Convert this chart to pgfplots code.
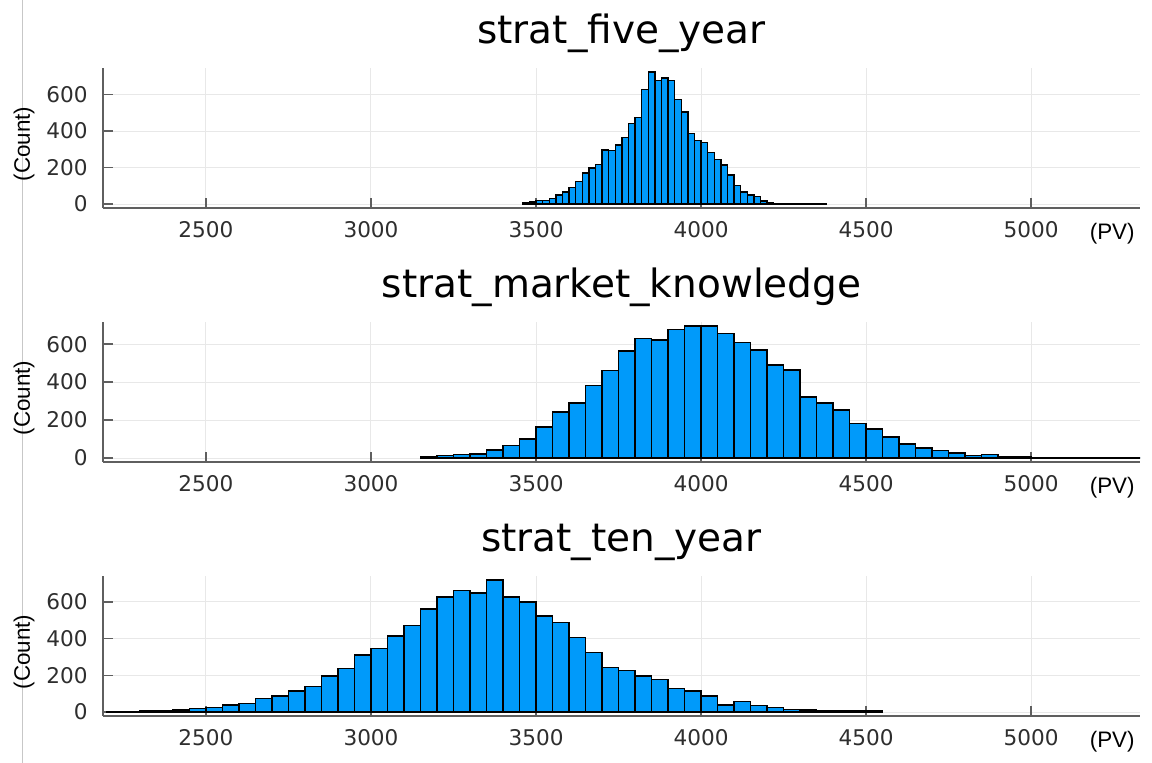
\documentclass[border=0pt]{standalone}
\usepackage{pgfplots}
\pgfplotsset{compat=1.18}
\usepackage{fontspec}
\setmainfont{DejaVu Sans}
\newfontfamily\labelfont{Liberation Sans}

\definecolor{barblue}{RGB}{0,154,250}
\definecolor{spine}{RGB}{95,95,95}

\pgfplotsset{
  panel/.style={
    scale only axis, width=518.5pt, height=70pt,
    anchor=south west,
    xmin=2188, xmax=5330,
    axis lines*=left,
    axis line style={-, spine, line width=1pt},
    tick align=inside,
    major tick length=5pt,
    tick style={spine, line width=0.8pt},
    xtick={2500,3000,3500,4000,4500,5000},
    ytick={0,200,400,600},
    grid=major,
    major grid style={black!9, line width=0.5pt},
    /pgf/number format/1000 sep={},
    /pgf/number format/assume math mode=true,
    tick label style={font=\fontsize{10.8}{12}\selectfont, text=black!82},
    xticklabel style={anchor=base, yshift=-14.6pt},
    yticklabel style={anchor=east, inner sep=0pt, xshift=-7.5pt},
    every axis title shift=0pt,
    title style={font=\fontsize{19.5}{22}\selectfont, anchor=base, at={(0.5,1)}, yshift=12.3pt},
    xlabel={(PV)},
    xlabel style={at={(rel axis cs:1,0)}, anchor=base east, inner sep=0pt,
      xshift=-2.5pt, yshift=-16pt, font=\labelfont\fontsize{11.2}{13}\selectfont},
  },
  hist/.style={ybar interval, fill=barblue, draw=black, line width=0.7pt},
}

\begin{document}
\begin{tikzpicture}
\path[use as bounding box] (0,0) rectangle (576pt,381.5pt);
\draw[black!22, line width=0.5pt] (11pt,0) -- (11pt,381.5pt);

% strat_five_year: bins of 20 from 3460
\begin{axis}[panel, at={(51.5pt,277.5pt)}, ymin=-21.7, ymax=745.7, title={strat\_five\_year}]
\addplot[hist] coordinates {
(3460,5) (3480,12) (3500,18) (3520,18) (3540,31) (3560,49) (3580,67) (3600,91)
(3620,122) (3640,169) (3660,198) (3680,218) (3700,296) (3720,293) (3740,324) (3760,364)
(3780,440) (3800,473) (3820,627) (3840,724) (3860,678) (3880,691) (3900,676) (3920,573)
(3940,504) (3960,387) (3980,349) (4000,336) (4020,282) (4040,245) (4060,213) (4080,158)
(4100,100) (4120,67) (4140,49) (4160,40) (4180,16) (4200,9) (4220,4) (4240,3)
(4260,2) (4280,2) (4300,3) (4320,2) (4340,2) (4360,3) (4380,0)
};
\end{axis}

% strat_market_knowledge: bins of 50 from 3150
\begin{axis}[panel, at={(51.5pt,150.5pt)}, ymin=-20.9, ymax=716.9, title={strat\_market\_knowledge}]
\addplot[hist] coordinates {
(3150,9) (3200,12) (3250,19) (3300,21) (3350,43) (3400,66) (3450,101) (3500,163)
(3550,243) (3600,290) (3650,381) (3700,461) (3750,565) (3800,630) (3850,621) (3900,678)
(3950,696) (4000,696) (4050,657) (4100,609) (4150,569) (4200,490) (4250,464) (4300,322)
(4350,290) (4400,252) (4450,183) (4500,153) (4550,110) (4600,73) (4650,52) (4700,40)
(4750,26) (4800,12) (4850,17) (4900,9) (4950,5) (5000,3) (5050,2) (5100,3)
(5150,2) (5200,2) (5250,1) (5300,3) (5350,0)
};
\end{axis}

% strat_ten_year: bins of 50 from 2200
\begin{axis}[panel, at={(51.5pt,23.5pt)}, ymin=-21.6, ymax=741.6, title={strat\_ten\_year}]
\addplot[hist] coordinates {
(2200,3) (2250,3) (2300,7) (2350,9) (2400,12) (2450,18) (2500,25) (2550,39)
(2600,48) (2650,75) (2700,88) (2750,115) (2800,138) (2850,197) (2900,236) (2950,311)
(3000,347) (3050,415) (3100,473) (3150,562) (3200,627) (3250,661) (3300,648) (3350,720)
(3400,627) (3450,600) (3500,523) (3550,487) (3600,406) (3650,326) (3700,242) (3750,227)
(3800,197) (3850,177) (3900,129) (3950,115) (4000,88) (4050,39) (4100,57) (4150,36)
(4200,25) (4250,14) (4300,12) (4350,7) (4400,7) (4450,9) (4500,5) (4550,0)
};
\end{axis}

% rotated count labels beside each panel
\node[rotate=90, font=\labelfont\fontsize{11.2}{13}\selectfont] at (12pt,309.5pt) {(Count)};
\node[rotate=90, font=\labelfont\fontsize{11.2}{13}\selectfont] at (12pt,182.5pt) {(Count)};
\node[rotate=90, font=\labelfont\fontsize{11.2}{13}\selectfont] at (12pt,55.5pt) {(Count)};
\end{tikzpicture}
\end{document}
